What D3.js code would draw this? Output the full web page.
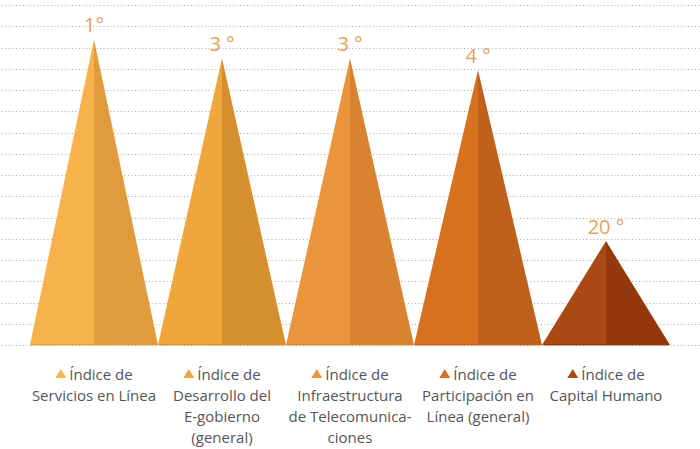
<!DOCTYPE html>
<html><head><meta charset="utf-8">
<script src="https://cdn.jsdelivr.net/npm/d3@7"></script>
<style>html,body{margin:0;padding:0;background:#fff;}svg{display:block;}</style>
</head><body>
<svg id="c" width="700" height="449"></svg>
<script>
const categories = ["Servicios en Línea","Desarrollo del E-gobierno (general)","Infraestructura de Telecomunicaciones","Participación en Línea (general)","Capital Humano"];
const legendLines = [
  ["Servicios en Línea"],
  ["Desarrollo del","E-gobierno","(general)"],
  ["Infraestructura","de Telecomunica-","ciones"],
  ["Participación en","Línea (general)"],
  ["Capital Humano"]
];
const values = [14.38, 13.5, 13.5, 12.94, 4.89];
const rankLabels = ["1°","3 °","3 °","4 °","20 °"];
const leftColors = ["#F8B24B","#EEA63D","#EA953C","#D6721E","#A94A14"];
const rightColors = ["#E09B3C","#D68F2F","#D98331","#BF611A","#94390D"];
const gridTicks = d3.range(0, 17);

const svg = d3.select("#c");
const x = d3.scaleBand().domain(categories).range([30, 670]).padding(0);
const y = d3.scaleLinear().domain([0, 16]).range([345, 5]);

// gridlines
svg.append("g").selectAll("line").data(gridTicks).join("line")
  .attr("x1", 2).attr("x2", 700)
  .attr("y1", d => Math.round(y(d)) + 0.5).attr("y2", d => Math.round(y(d)) + 0.5)
  .attr("stroke", "#a9a9a9").attr("stroke-width", 1)
  .attr("stroke-dasharray", "1,2.5");

const g = svg.append("g");
categories.forEach((c, i) => {
  const x0 = x(c), w = x.bandwidth(), cx = x0 + w / 2;
  const top = y(values[i]), base = y(0);
  g.append("path").attr("d", `M${x0},${base}L${cx},${top}L${cx},${base}Z`).attr("fill", leftColors[i]);
  g.append("path").attr("d", `M${cx},${base}L${cx},${top}L${x0 + w},${base}Z`).attr("fill", rightColors[i]);
  g.append("rect").attr("x", x0 + 1).attr("y", base - 1).attr("width", w - 2).attr("height", 1.5)
    .attr("fill", rightColors[i]).attr("opacity", 0.8);
  g.append("text").attr("x", cx).attr("y", top - 7).attr("text-anchor", "middle")
    .attr("font-family", "Open Sans").attr("font-size", 20).attr("fill", "#E2A25C")
    .text(rankLabels[i]);

  // legend
  const lg = svg.append("g").attr("font-family", "Open Sans").attr("font-size", 15).attr("fill", "#555");
  const head = lg.append("text").attr("y", 380).text("Índice de");
  const tw = head.node().getComputedTextLength();
  const mw = 11, gap = 3;
  const total = mw + gap + tw;
  const sx = cx - total / 2;
  head.attr("x", sx + mw + gap);
  lg.append("path").attr("d", `M${sx},378L${sx + mw / 2},369L${sx + mw},378Z`).attr("fill", leftColors[i]);
  legendLines[i].forEach((t, j) => {
    lg.append("text").attr("x", cx).attr("y", 401 + j * 21).attr("text-anchor", "middle").text(t);
  });
});
</script>
</body></html>
